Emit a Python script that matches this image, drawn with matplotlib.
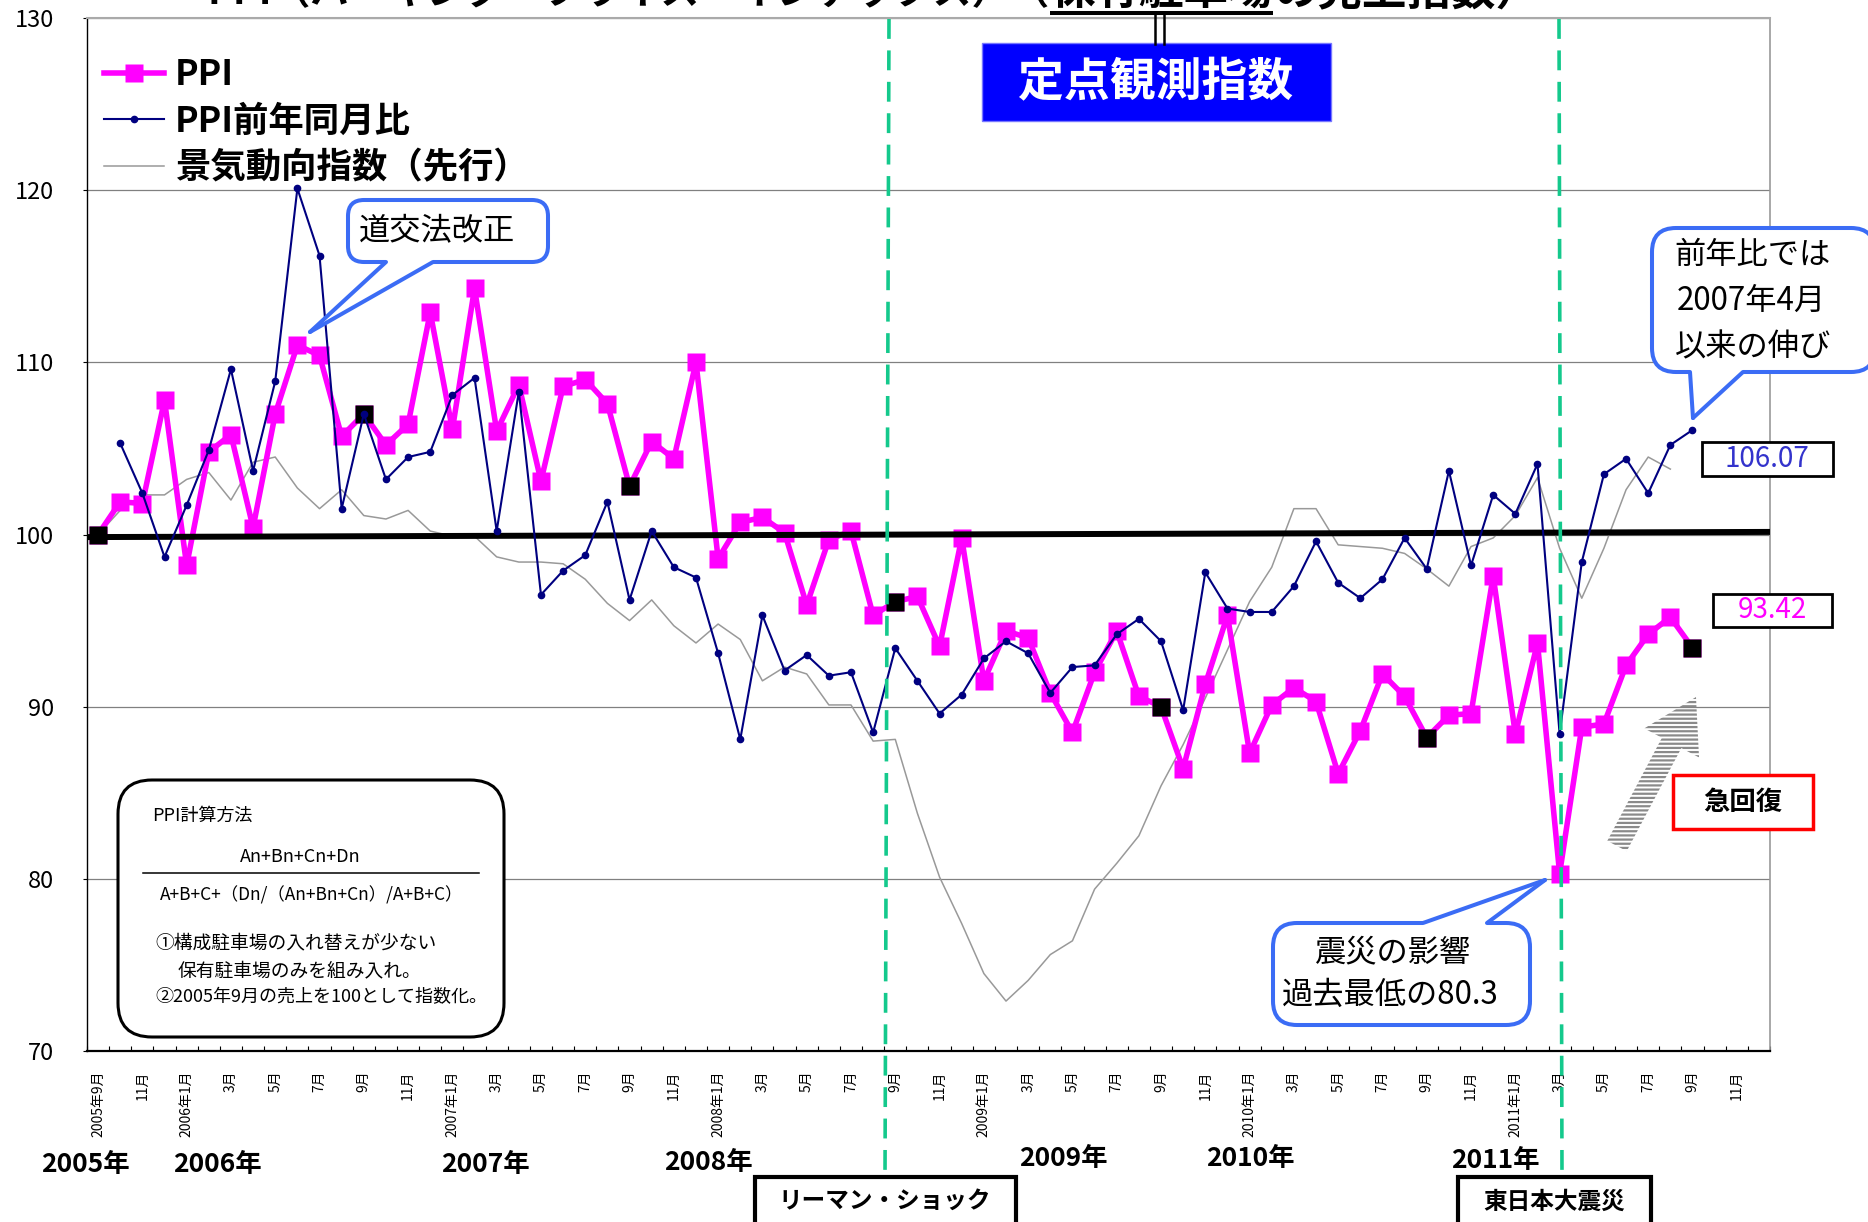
import numpy as np
import matplotlib
matplotlib.use('Agg')
import matplotlib.pyplot as plt
from matplotlib.patches import FancyBboxPatch, Rectangle, Polygon, FancyArrow
from matplotlib.lines import Line2D
import matplotlib.transforms as mtransforms
from matplotlib.ticker import FixedLocator

plt.rcParams['font.family'] = ['Noto Sans CJK JP', 'DejaVu Sans']
plt.rcParams['hatch.linewidth'] = 1.6

# ---------------- data ----------------
start_year, start_month, n_months = 2005, 9, 76   # categories 2005-09 .. 2011-12

ppi = [100.0, 101.9, 101.8, 107.8, 98.2, 104.8, 105.8, 100.4, 107.0, 111.0,
       110.4, 105.7, 107.0, 105.2, 106.4, 112.9, 106.1, 114.3, 106.0, 108.7,
       103.1, 108.6, 109.0, 107.6, 102.8, 105.4, 104.4, 110.0, 98.6, 100.7,
       101.0, 100.1, 95.9, 99.7, 100.2, 95.3, 96.1, 96.4, 93.5, 99.8,
       91.5, 94.4, 94.0, 90.8, 88.5, 92.0, 94.4, 90.6, 90.0, 86.4,
       91.3, 95.3, 87.3, 90.1, 91.1, 90.3, 86.1, 88.6, 91.9, 90.6,
       88.2, 89.5, 89.6, 97.6, 88.4, 93.7, 80.3, 88.8, 89.0, 92.4,
       94.2, 95.2, 93.42]

# PPI 前年同月比 (starts at 2005-10)
yoy = [105.3, 102.4, 98.7, 101.7, 104.9, 109.6, 103.7, 108.9, 120.1,
       116.2, 101.5, 107.0, 103.2, 104.5, 104.8, 108.1, 109.1, 100.2, 108.3,
       96.5, 97.9, 98.8, 101.9, 96.2, 100.2, 98.1, 97.5, 93.1, 88.1,
       95.3, 92.1, 93.0, 91.8, 92.0, 88.5, 93.4, 91.5, 89.6, 90.7,
       92.8, 93.8, 93.1, 90.8, 92.3, 92.4, 94.2, 95.1, 93.8, 89.8,
       97.8, 95.7, 95.5, 95.5, 97.0, 99.6, 97.2, 96.3, 97.4, 99.8,
       98.0, 103.7, 98.2, 102.3, 101.2, 104.1, 88.4, 98.4, 103.5, 104.4,
       102.4, 105.2, 106.07]
yoy_start = 1

# 景気動向指数（先行）
ci = [100.0, 101.4, 102.3, 102.3, 103.2, 103.6, 102.0, 104.2, 104.5, 102.7,
      101.5, 102.6, 101.1, 100.9, 101.4, 100.2, 99.9, 99.9, 98.7, 98.4,
      98.4, 98.3, 97.4, 96.0, 95.0, 96.2, 94.7, 93.7, 94.8, 93.9,
      91.5, 92.3, 91.9, 90.1, 90.1, 88.0, 88.1, 83.8, 80.1, 77.4,
      74.5, 72.9, 74.1, 75.6, 76.4, 79.4, 80.9, 82.5, 85.4, 87.8,
      90.5, 93.3, 96.1, 98.1, 101.5, 101.5, 99.4, 99.3, 99.2, 98.9,
      98.0, 97.0, 99.3, 99.8, 101.1, 103.3, 99.2, 96.3, 99.2, 102.6,
      104.5, 103.8]

legend_labels = ['PPI', 'PPI前年同月比', '景気動向指数（先行）']
y_ticks = [70, 80, 90, 100, 110, 120, 130]
baseline_ends = [99.85, 100.15]
year_labels = ['2005年', '2006年', '2007年', '2008年', '2009年', '2010年', '2011年']
value_labels = ['106.07', '93.42']

# categories
cat_year, cat_month = [], []
for k in range(n_months):
    m0 = start_month - 1 + k
    cat_year.append(start_year + m0 // 12)
    cat_month.append(m0 % 12 + 1)
x = np.arange(n_months)
tick_pos = list(range(0, n_months - 1, 2))
tick_labels = [f'{cat_year[i]}年{cat_month[i]}月' if (i == 0 or cat_month[i] == 1)
               else f'{cat_month[i]}月' for i in tick_pos]

# ---------------- figure ----------------
W, H = 1868, 1222
fig = plt.figure(figsize=(W / 100, H / 100), dpi=100)
fig.patch.set_facecolor('white')
T = mtransforms.Affine2D().scale(1 / W, -1 / H).translate(0, 1) + fig.transFigure

ax = fig.add_axes([87 / W, 1 - 1051 / H, (1770 - 87) / W, (1051 - 18) / H])
ax.set_xlim(-0.5, n_months - 0.5)
ax.set_ylim(70, 130)

PINK = '#FF00FF'
NAVY = '#000080'
GRAY = '#999999'

x_ppi = x[:len(ppi)]
x_yoy = x[yoy_start:yoy_start + len(yoy)]
x_ci = x[:len(ci)]

l_ci, = ax.plot(x_ci, ci, color=GRAY, lw=1.1, zorder=2)
l_ppi, = ax.plot(x_ppi, ppi, color=PINK, lw=4.0, marker='s', ms=13.5,
                 mec='none', zorder=3)
sept = [i for i in range(len(ppi)) if cat_month[i] == 9]
ax.plot(x_ppi[sept], np.array(ppi)[sept], ls='none', marker='s', ms=13.5,
        color='black', mec='none', zorder=3.5, clip_on=False)
ax.plot([-0.5, n_months - 0.5], baseline_ends, color='black', lw=4.3, zorder=4,
        solid_capstyle='butt')
l_yoy, = ax.plot(x_yoy, yoy, color=NAVY, lw=1.5, marker='o', ms=4.5, zorder=5)

# axes styling
ax.set_yticks(y_ticks)
ax.tick_params(axis='y', length=3, pad=21, labelsize=17, direction='out')
ax.yaxis.grid(True, color='#808080', lw=0.9)
ax.set_axisbelow(True)
ax.xaxis.set_major_locator(FixedLocator(tick_pos))
ax.set_xticklabels(tick_labels, rotation=90, fontsize=10)
ax.tick_params(axis='x', which='major', length=0, pad=14)
ax.xaxis.set_minor_locator(FixedLocator(np.arange(-0.5, n_months, 1.0)))
ax.tick_params(axis='x', which='minor', direction='in', length=3.6, width=0.8)
ax.spines['top'].set_color('#aaaaaa'); ax.spines['top'].set_linewidth(1.5)
ax.spines['right'].set_color('#999999'); ax.spines['right'].set_linewidth(1.2)
ax.spines['left'].set_color('black'); ax.spines['left'].set_linewidth(1.0)
ax.spines['bottom'].set_color('black'); ax.spines['bottom'].set_linewidth(1.6)

ax.legend([l_ppi, l_yoy, l_ci], legend_labels, loc='upper left',
          bbox_to_anchor=(104 / W, 1 - 57 / H), bbox_transform=fig.transFigure,
          frameon=False, borderpad=0, borderaxespad=0, handlelength=1.7,
          handletextpad=0.3, labelspacing=0.33,
          prop={'size': 25.5, 'weight': 'bold'})

# ---------------- annotations (figure pixel coords) ----------------
def ftext(xp, yp, s, **kw):
    return fig.text(xp, yp, s, transform=T, **kw)

# title (cropped at top edge, as in the original)
ftext(1050, 4, 'PPI（パーキング・プライス・インデックス）（', ha='right', va='baseline',
      fontsize=28, fontweight='bold')
ftext(1050, 4, '保有駐車場', ha='left', va='baseline', fontsize=32, fontweight='bold')
ftext(1273, 4, 'の売上指数）', ha='left', va='baseline', fontsize=32, fontweight='bold')
fig.add_artist(Line2D([1050, 1273], [13, 13], transform=T, color='black', lw=2.9,
                      solid_capstyle='butt'))
for xx in (1155, 1164):
    fig.add_artist(Line2D([xx, xx], [14, 44], transform=T, color='black', lw=1.8))

# 定点観測指数 box
fig.add_artist(Rectangle((982, 43), 349, 78, transform=T, fc='#0000FF',
                         ec='#7777FF', lw=1))
ftext(1156, 83, '定点観測指数', ha='center', va='center', fontsize=33,
      fontweight='bold', color='white')

# green dashed event lines
GREEN = '#14C98C'
for (xt, xb) in ((889, 885), (1559, 1562)):
    fig.add_artist(Line2D([xt, xb], [19, 1177], transform=T, color=GREEN, lw=2.6,
                          linestyle=(0, (5.5, 3.2))))

# year labels
for s, (xp, yp) in zip(year_labels, [(85, 1165), (217, 1165), (485, 1164), (708, 1163),
                                     (1063, 1159), (1250, 1158), (1495, 1160)]):
    ftext(xp, yp, s, ha='center', va='center', fontsize=19, fontweight='bold')

# bottom event boxes
fig.add_artist(Rectangle((755, 1177), 261, 70, transform=T, fc='white', ec='black', lw=3))
ftext(885, 1201, 'リーマン・ショック', ha='center', va='center', fontsize=17, fontweight='bold')
fig.add_artist(Rectangle((1458, 1177), 193, 70, transform=T, fc='white', ec='black', lw=3))
ftext(1554, 1202, '東日本大震災', ha='center', va='center', fontsize=17, fontweight='bold')

# callouts
BLUE = '#3B6CF5'
def callout(x0, y0, x1, y1, r, bx0, bx1, side, tip, lines, fs=22.5):
    fig.add_artist(FancyBboxPatch((x0, y0), x1 - x0, y1 - y0,
                                  boxstyle=f'round,pad=0,rounding_size={r}',
                                  transform=T, fc='white', ec=BLUE, lw=2.9, zorder=10))
    ey = y1 if side == 'bottom' else y0
    iy = ey - 5 if side == 'bottom' else ey + 5
    fig.add_artist(Polygon([(bx0, ey), (bx0, iy), (bx1, iy), (bx1, ey), tip],
                           closed=True, transform=T, fc='white', ec='none', zorder=11))
    for bx in (bx0, bx1):
        fig.add_artist(Line2D([bx, tip[0]], [ey, tip[1]], transform=T, color=BLUE,
                              lw=2.9, zorder=12, solid_capstyle='round'))
    for (s, tx, ty) in lines:
        ftext(tx, ty, s, ha='center', va='center', fontsize=fs, zorder=13)

callout(348, 200, 548, 262, 16, 386, 433, 'bottom', (310, 332),
        [('道交法改正', 437, 231)])
callout(1652, 228, 1875, 372, 24, 1690, 1743, 'bottom', (1693, 418),
        [('前年比では', 1753, 255), ('2007年4月', 1751, 301), ('以来の伸び', 1753, 347)])
callout(1273, 923, 1530, 1025, 24, 1423, 1487, 'top', (1545, 880),
        [('震災の影響', 1393, 952), ('過去最低の80.3', 1390, 995)])

# value boxes
fig.add_artist(Rectangle((1702, 442), 131, 34, transform=T, fc='white', ec='black', lw=2))
ftext(1767, 459, value_labels[0], ha='center', va='center', fontsize=20, color='#3333CC')
fig.add_artist(Rectangle((1713, 594), 119, 33, transform=T, fc='white', ec='black', lw=2))
ftext(1772, 610, value_labels[1], ha='center', va='center', fontsize=20, color=PINK)

# 急回復
fig.add_artist(Rectangle((1673, 775), 140, 54, transform=T, fc='white', ec='#FF0000', lw=2.5))
ftext(1743, 803, '急回復', ha='center', va='center', fontsize=19, fontweight='bold')

# hatched arrow
fig.add_artist(FancyArrow(1617, 846, 79, -149, width=22, head_width=62, head_length=52,
                          length_includes_head=True, transform=T, fc='none',
                          ec='#8a8a8a', lw=0, hatch='----'))

# PPI計算方法 box
fig.add_artist(FancyBboxPatch((118, 780), 386, 257, boxstyle='round,pad=0,rounding_size=34',
                              transform=T, fc='white', ec='black', lw=2.2))
ftext(152, 816, 'PPI計算方法', ha='left', va='center', fontsize=13)
ftext(300, 857, 'An+Bn+Cn+Dn', ha='center', va='center', fontsize=13)
fig.add_artist(Line2D([143, 479], [873, 873], transform=T, color='black', lw=1.1))
ftext(312, 895, 'A+B+C+（Dn/（An+Bn+Cn）/A+B+C）', ha='center', va='center', fontsize=12.5)
ftext(155, 943, '①構成駐車場の入れ替えが少ない', ha='left', va='center', fontsize=13.5)
ftext(178, 971, '保有駐車場のみを組み入れ。', ha='left', va='center', fontsize=13.5)
ftext(155, 997, '②2005年9月の売上を100として指数化。', ha='left', va='center', fontsize=13)

fig.savefig('out.png', dpi=100, facecolor='white')
